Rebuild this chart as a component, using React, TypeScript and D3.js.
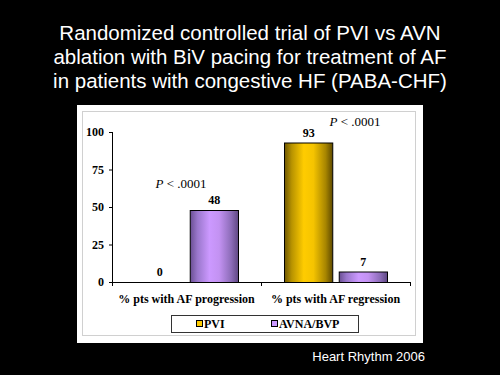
import React from "react";
import * as d3 from "d3";

const titleLines = [
  "Randomized controlled trial of PVI vs AVN",
  "ablation with BiV pacing for treatment of AF",
  "in patients with congestive HF (PABA-CHF)",
];
const categories = ["% pts with AF progression", "% pts with AF regression"];
const seriesNames = ["PVI", "AVNA/BVP"];
const pviValues = [0, 93];
const avnaValues = [48, 7];
const pLabels = ["P < .0001", "P < .0001"];
const yTicks = [0, 25, 50, 75, 100];
const footer = "Heart Rhythm 2006";

export default function App() {
  const W = 500, H = 375;
  const x0 = d3.scaleBand<string>().domain(categories).range([112, 410]).paddingInner(0).paddingOuter(0);
  const x1 = d3.scaleBand<string>().domain(seriesNames).range([23, 127]).paddingInner(0.1);
  const y = d3.scaleLinear().domain([0, 100]).range([282, 132]);
  const series = [pviValues, avnaValues];
  const grads = ["gGold", "gPurple"];
  const serif = "'Liberation Serif', 'Times New Roman', serif";
  const sans = "'Liberation Sans', Arial, sans-serif";
  const pY = [188, 126];
  const pX = [181, 355];

  return (
    <svg width={W} height={H} style={{ position: "absolute", left: 0, top: 0, background: "#000" }}>
      <defs>
        <linearGradient id="gGold" x1="0" x2="1" y1="0" y2="0">
          <stop offset="0" stopColor="#6e5700" />
          <stop offset="0.15" stopColor="#b89300" />
          <stop offset="0.4" stopColor="#ffcc00" />
          <stop offset="0.6" stopColor="#f5c400" />
          <stop offset="0.85" stopColor="#a88600" />
          <stop offset="1" stopColor="#5e4a00" />
        </linearGradient>
        <linearGradient id="gPurple" x1="0" x2="1" y1="0" y2="0">
          <stop offset="0" stopColor="#6a4f93" />
          <stop offset="0.15" stopColor="#9a77cc" />
          <stop offset="0.4" stopColor="#cc99ff" />
          <stop offset="0.6" stopColor="#c392f2" />
          <stop offset="0.85" stopColor="#8c6cb8" />
          <stop offset="1" stopColor="#5e4782" />
        </linearGradient>
      </defs>
      <rect x={0} y={0} width={W} height={H} fill="#000" />
      {titleLines.map((t, i) => (
        <text key={i} x={250} y={40 + i * 24} textAnchor="middle" fill="#fff" fontFamily={sans} fontSize={20.5}>
          {t}
        </text>
      ))}
      <rect x={77} y={105} width={346} height={238} fill="#fff" />
      <rect x={82.5} y={111.5} width={333} height={224} fill="none" stroke="#d0d0d0" strokeWidth={1} />
      {/* y axis */}
      <line x1={112.5} x2={112.5} y1={y(100)} y2={y(0)} stroke="#000" />
      {yTicks.map((t) => (
        <g key={t}>
          <line x1={109} x2={112.5} y1={y(t) + 0.5} y2={y(t) + 0.5} stroke="#000" />
          <text x={104} y={y(t) + 4} textAnchor="end" fontFamily={serif} fontWeight="bold" fontSize={12} fill="#000">
            {t}
          </text>
        </g>
      ))}
      {/* x axis */}
      <line x1={112} x2={410} y1={y(0) + 0.5} y2={y(0) + 0.5} stroke="#000" />
      {[112, ...categories.map((c) => (x0(c) as number) + x0.bandwidth())].map((xv, i) => (
        <line key={i} x1={xv + 0.5} x2={xv + 0.5} y1={y(0)} y2={y(0) + 4} stroke="#000" />
      ))}
      {categories.map((c, ci) => {
        const gx = x0(c) as number;
        return (
          <g key={c}>
            {seriesNames.map((s, si) => {
              const v = series[si][ci];
              const bx = gx + (x1(s) as number);
              const bw = x1.bandwidth();
              return (
                <g key={s}>
                  {v > 0 && (
                    <rect x={bx + 0.5} y={y(v) + 0.5} width={bw - 1} height={y(0) - y(v)} fill={`url(#${grads[si]})`} stroke="#000" strokeWidth={1} />
                  )}
                  <text x={bx + bw / 2} y={y(v) - 6} textAnchor="middle" fontFamily={serif} fontWeight="bold" fontSize={12} fill="#000">
                    {v}
                  </text>
                </g>
              );
            })}
            <text x={pX[ci]} y={pY[ci]} textAnchor="middle" fontFamily={serif} fontSize={13} fill="#000">
              <tspan fontStyle="italic">P</tspan>
              {pLabels[ci].slice(1)}
            </text>
            <text x={gx + x0.bandwidth() / 2} y={303} textAnchor="middle" fontFamily={serif} fontWeight="bold" fontSize={12} fill="#000">
              {c}
            </text>
          </g>
        );
      })}
      {/* legend */}
      <rect x={171.5} y={315.5} width={187} height={17} fill="#fff" stroke="#333" strokeWidth={1} />
      {seriesNames.map((s, si) => {
        const lx = [196, 271][si];
        return (
          <g key={s}>
            <rect x={lx + 0.5} y={320.5} width={6} height={6} fill={["#ffcc00", "#cc99ff"][si]} stroke="#000" />
            <text x={lx + 8} y={328} fontFamily={serif} fontWeight="bold" fontSize={12} fill="#000">
              {s}
            </text>
          </g>
        );
      })}
      <text x={425} y={361} textAnchor="end" fontFamily={sans} fontSize={13} fill="#fff">
        {footer}
      </text>
    </svg>
  );
}
